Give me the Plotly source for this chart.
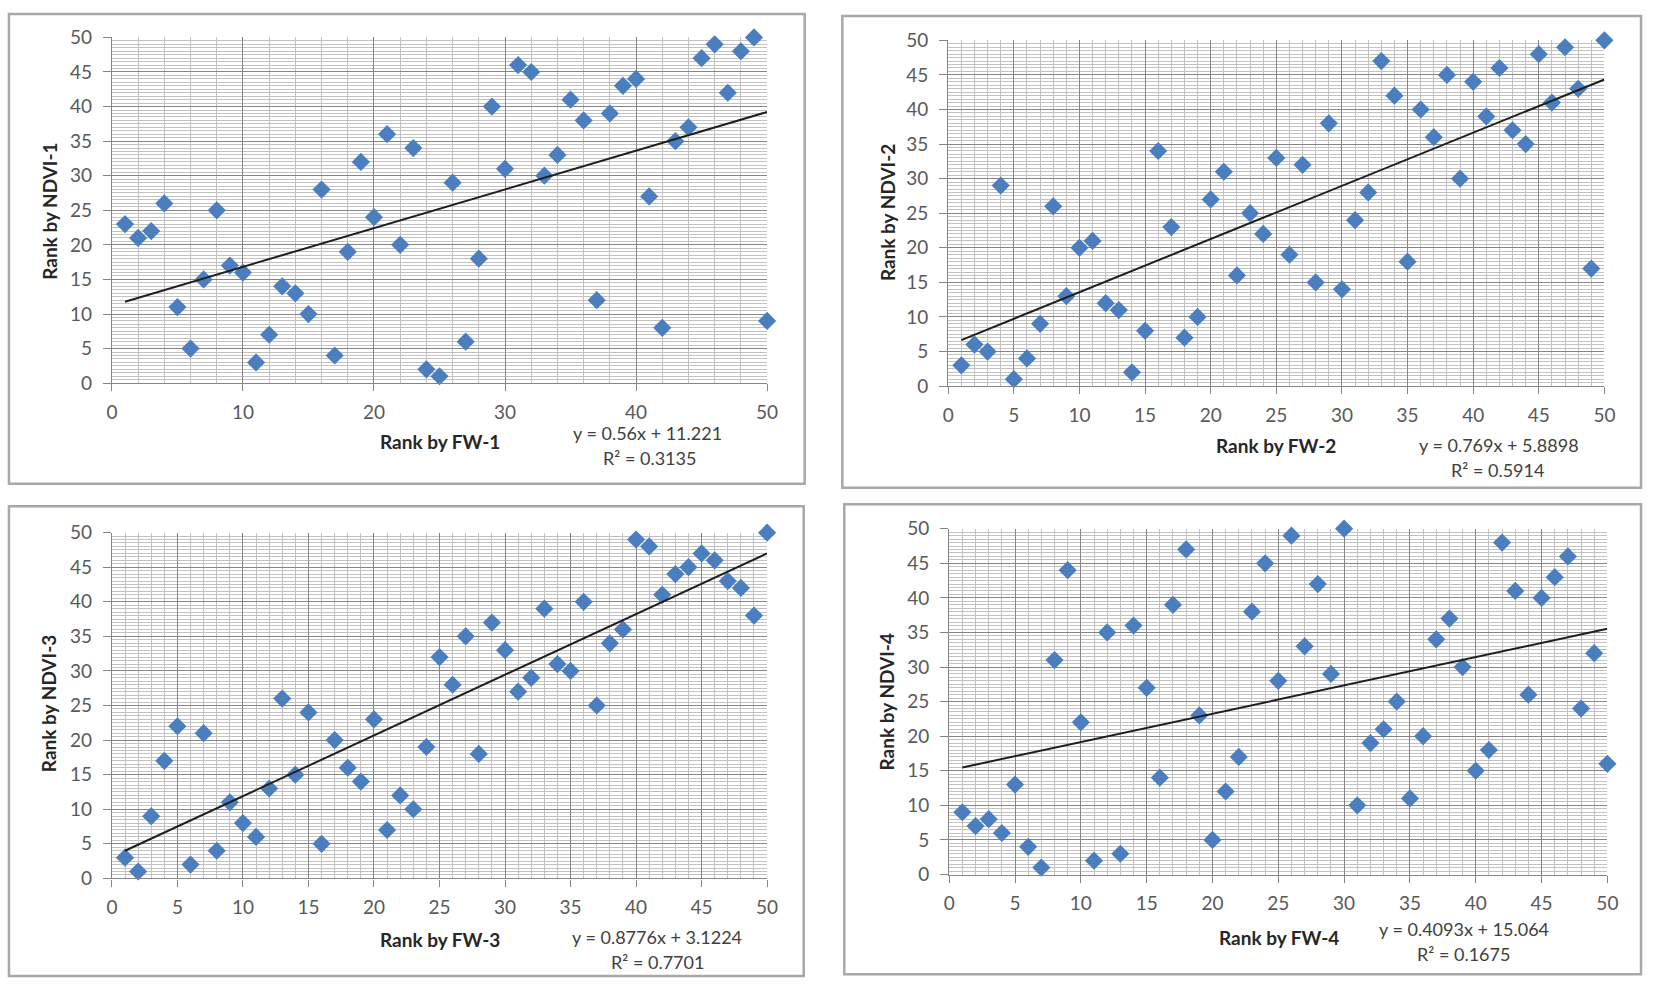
import plotly.graph_objects as go

# ranks by FW (same for every panel) and ranks by NDVI
rank_fw = [1, 2, 3, 4, 5, 6, 7, 8, 9, 10, 11, 12, 13, 14, 15, 16, 17, 18, 19, 20,
           21, 22, 23, 24, 25, 26, 27, 28, 29, 30, 31, 32, 33, 34, 35, 36, 37, 38, 39, 40,
           41, 42, 43, 44, 45, 46, 47, 48, 49, 50]

ndvi_1 = [23, 21, 22, 26, 11, 5, 15, 25, 17, 16, 3, 7, 14, 13, 10, 28, 4, 19, 32, 24,
          36, 20, 34, 2, 1, 29, 6, 18, 40, 31, 46, 45, 30, 33, 41, 38, 12, 39, 43, 44,
          27, 8, 35, 37, 47, 49, 42, 48, 50, 9]
ndvi_2 = [3, 6, 5, 29, 1, 4, 9, 26, 13, 20, 21, 12, 11, 2, 8, 34, 23, 7, 10, 27,
          31, 16, 25, 22, 33, 19, 32, 15, 38, 14, 24, 28, 47, 42, 18, 40, 36, 45, 30, 44,
          39, 46, 37, 35, 48, 41, 49, 43, 17, 50]
ndvi_3 = [3, 1, 9, 17, 22, 2, 21, 4, 11, 8, 6, 13, 26, 15, 24, 5, 20, 16, 14, 23,
          7, 12, 10, 19, 32, 28, 35, 18, 37, 33, 27, 29, 39, 31, 30, 40, 25, 34, 36, 49,
          48, 41, 44, 45, 47, 46, 43, 42, 38, 50]
ndvi_4 = [9, 7, 8, 6, 13, 4, 1, 31, 44, 22, 2, 35, 3, 36, 27, 14, 39, 47, 23, 5,
          12, 17, 38, 45, 28, 49, 33, 42, 29, 50, 10, 19, 21, 25, 11, 20, 34, 37, 30, 15,
          18, 48, 41, 26, 40, 43, 46, 24, 32, 16]

slopes = [0.56, 0.769, 0.8776, 0.4093]
intercepts = [11.221, 5.8898, 3.1224, 15.064]
r_squared = [0.3135, 0.5914, 0.7701, 0.1675]

x_titles = ["Rank by FW-1", "Rank by FW-2", "Rank by FW-3", "Rank by FW-4"]
y_titles = ["Rank by NDVI-1", "Rank by NDVI-2", "Rank by NDVI-3", "Rank by NDVI-4"]
x_major = [10, 5, 5, 5]
x_minor = [2, 1, 1, 1]

W, H = 1654, 991

# pixel layout of each panel (measured on the reference)
panels = [
    dict(plot=(107, 769, 26, 380), box=(3, 807, 2, 483),
         ytitle=(44, 204), xtitle=(439, 440), eq=(648, 431), r2=(650, 457)),
    dict(plot=(952, 1615, 29, 383), box=(845, 1652, 4, 487),
         ytitle=(890, 205), xtitle=(1283, 444), eq=(1508, 443), r2=(1507, 469)),
    dict(plot=(107, 769, 533, 887), box=(3, 806, 506, 987),
         ytitle=(43, 708), xtitle=(439, 950), eq=(658, 947), r2=(658, 973)),
    dict(plot=(953, 1618, 529, 883), box=(847, 1652, 504, 985),
         ytitle=(890, 706), xtitle=(1286, 947), eq=(1473, 939), r2=(1473, 964)),
]


def px(x):
    return x / W


def py(y):
    return 1 - y / H


FONT = "Lato, 'Open Sans', sans-serif"
MAJOR = "#858585"
MINOR = "#c2c2c2"

fig = go.Figure()
series = [ndvi_1, ndvi_2, ndvi_3, ndvi_4]
layout = {}
shapes = []
annotations = []

for i, ndvi in enumerate(series):
    n = "" if i == 0 else str(i + 1)
    p = panels[i]
    x0, x1, yt, yb = p["plot"]

    fig.add_trace(go.Scatter(
        x=rank_fw, y=ndvi, mode="markers",
        marker=dict(symbol="diamond", size=14, color="#4a7ebf"),
        xaxis="x" + n, yaxis="y" + n, cliponaxis=False, showlegend=False,
    ))

    xs = [min(rank_fw), max(rank_fw)]
    fig.add_trace(go.Scatter(
        x=xs, y=[slopes[i] * v + intercepts[i] for v in xs], mode="lines",
        line=dict(color="#1e1e1e", width=2),
        xaxis="x" + n, yaxis="y" + n, showlegend=False,
    ))

    layout["xaxis" + n] = dict(
        domain=[px(x0), px(x1)], range=[0, 50], anchor="y" + n,
        tick0=0, dtick=x_major[i], showgrid=True, gridcolor=MAJOR, gridwidth=1.3,
        minor=dict(tick0=0, dtick=x_minor[i], showgrid=True, gridcolor=MINOR, gridwidth=1),
        ticks="outside", ticklen=7, tickcolor=MAJOR, tickwidth=1.3,
        showline=True, linecolor=MAJOR, linewidth=1.3, zeroline=False,
        tickfont=dict(family=FONT, size=19, color="#595959"), ticklabelstandoff=5,
    )
    layout["yaxis" + n] = dict(
        domain=[py(yb), py(yt)], range=[0, 50], anchor="x" + n,
        tick0=0, dtick=5, showgrid=True, gridcolor=MAJOR, gridwidth=1.3,
        minor=dict(tick0=0, dtick=0.5, showgrid=True, gridcolor=MINOR, gridwidth=1),
        ticks="outside", ticklen=8, tickcolor=MAJOR, tickwidth=1.3,
        showline=True, linecolor=MAJOR, linewidth=1.3, zeroline=False,
        tickfont=dict(family=FONT, size=19, color="#595959"), ticklabelstandoff=7,
    )

    bx0, bx1, by0, by1 = p["box"]
    shapes.append(dict(type="rect", xref="paper", yref="paper",
                       x0=px(bx0), x1=px(bx1), y0=py(by1), y1=py(by0),
                       line=dict(color="#a8a8a8", width=2.5), layer="below"))

    def note(pos, text, bold=False, angle=0):
        annotations.append(dict(
            x=px(pos[0]), y=py(pos[1]), xref="paper", yref="paper",
            text="<b>%s</b>" % text if bold else text, showarrow=False,
            xanchor="center", yanchor="middle", textangle=angle, borderpad=0,
            font=dict(family=FONT, size=19 if bold else 18,
                      color="#262626" if bold else "#404040"),
        ))

    note(p["ytitle"], y_titles[i], bold=True, angle=-90)
    note(p["xtitle"], x_titles[i], bold=True)
    note(p["eq"], "y = %gx + %g" % (slopes[i], intercepts[i]))
    note(p["r2"], "R² = %g" % r_squared[i])

fig.update_layout(
    width=W, height=H, margin=dict(l=0, r=0, t=0, b=0),
    paper_bgcolor="white", plot_bgcolor="white",
    shapes=shapes, annotations=annotations, **layout,
)

# drop the default page margin so the figure sits at the window's corner
fig.write_html("out.html", config={"displayModeBar": False},
               post_script="document.body.style.margin = '0';")
